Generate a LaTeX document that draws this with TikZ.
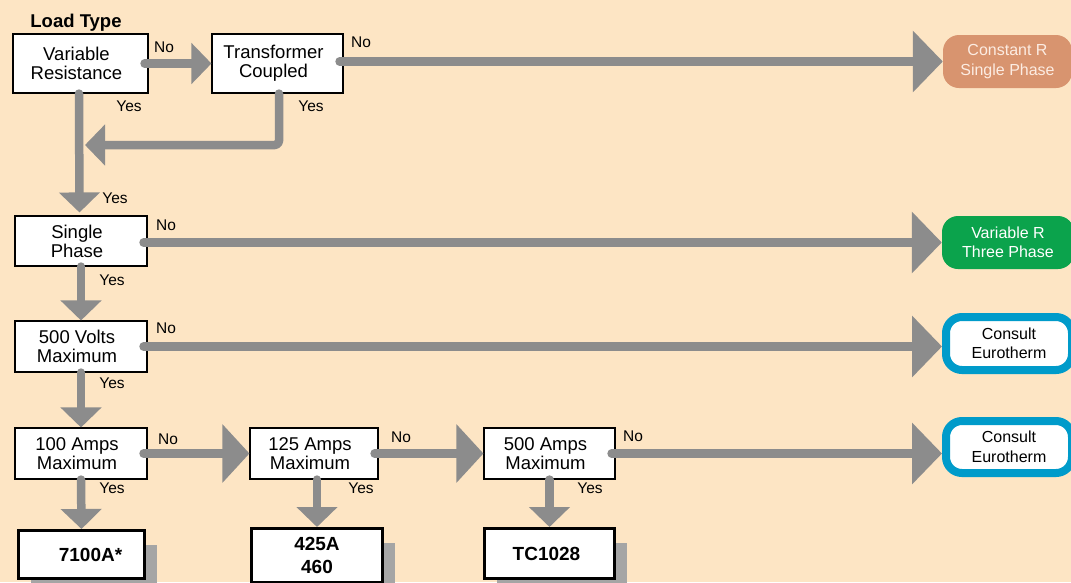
\documentclass[tikz,border=0pt]{standalone}
\usepackage{fontspec}
\setmainfont{Liberation Sans}
\usetikzlibrary{arrows.meta,calc,shadows}
\definecolor{bg}{RGB}{253,229,196}
\definecolor{arr}{RGB}{140,140,140}
\definecolor{shd}{RGB}{165,165,165}
\definecolor{crfill}{RGB}{216,148,111}
\definecolor{crtext}{RGB}{252,236,226}
\definecolor{grn}{RGB}{11,163,76}
\definecolor{blu}{RGB}{0,155,202}
\begin{document}
\begin{tikzpicture}[x=1pt,y=-1pt,
  dbox/.style={draw=black,line width=1.1pt,fill=white,inner sep=0pt},
  dtxt/.style={align=center,inner sep=0pt,xshift=-4pt,font=\fontsize{18.5}{19}\selectfont},
  rbox/.style={draw=black,line width=3pt,fill=white,inner sep=0pt,align=center,
    font=\fontsize{19}{22.5}\selectfont\bfseries,
    drop shadow={shadow xshift=12pt,shadow yshift=-14pt,fill=shd,opacity=1}},
  term/.style={rounded corners=16pt,inner sep=0pt,align=center,
    font=\fontsize{16}{19.5}\selectfont},
  lbl/.style={font=\fontsize{15.5}{18}\selectfont,inner sep=0pt},
  flow/.style={draw=arr,line width=8.5pt,line cap=round,line join=round},
  sm/.style={-{Triangle[length=20pt,width=40pt]}},
  md/.style={-{Triangle[length=27pt,width=57pt]}},
  lg/.style={-{Triangle[length=30pt,width=60pt]}},
]
\fill[bg] (0,0) rectangle (1071,582);
\useasboundingbox (0,0) rectangle (1071,582);

% title
\node[anchor=base,inner sep=0pt,font=\fontsize{18.5}{20}\selectfont\bfseries] (title) at (76,27) {Load Type};

% decision boxes
\node[dbox,minimum width=135,minimum height=59,label={[dtxt]center:Variable\\Resistance}] (vr) at (80.5,63.5) {};
\node[dbox,minimum width=131,minimum height=59,label={[dtxt]center:Transformer\\Coupled}] (tc) at (277.5,63.5) {};
\node[dbox,minimum width=132,minimum height=50,label={[dtxt]center:Single\\Phase}] (sp) at (81,241) {};
\node[dbox,minimum width=132,minimum height=51,label={[dtxt]center:500 Volts\\Maximum}] (v500) at (81,346.5) {};
\node[dbox,minimum width=132,minimum height=51,label={[dtxt]center:100 Amps\\Maximum}] (a100) at (81,453.5) {};
\node[dbox,minimum width=128,minimum height=51,label={[dtxt]center:125 Amps\\Maximum}] (a125) at (314,453.5) {};
\node[dbox,minimum width=131,minimum height=51,label={[dtxt]center:500 Amps\\Maximum}] (a500) at (549.5,453.5) {};

% result boxes
\node[rbox,minimum width=126,minimum height=48] (r7100) at (81.5,554.5) {\hspace*{18pt}7100A*};
\node[rbox,minimum width=131,minimum height=54] (r425) at (317,555.5) {425A\\460};
\node[rbox,minimum width=130,minimum height=50] (rtc) at (549.5,553.5) {\hspace*{-6pt}TC1028};

% terminal nodes
\node[term,fill=crfill,text=crtext,minimum width=129,minimum height=53] (cr) at (1007.5,61.5) {Constant R\\Single Phase};
\node[term,fill=grn,text=white,minimum width=132,minimum height=53] (vr3) at (1008,242.5) {Variable R\\Three Phase};
\node[term,draw=blu,line width=8pt,fill=white,minimum width=126,minimum height=53] (ce1) at (1009,343.5) {Consult\\Eurotherm};
\node[term,draw=blu,line width=8pt,fill=white,minimum width=126,minimum height=52] (ce2) at (1009,447) {Consult\\Eurotherm};

\coordinate (join) at (85,145);

% connectors
\draw[flow,sm] ($(vr.east)+(-4,0)$) -- (tc.west);
\draw[flow,lg] ($(tc.east |- cr.west)+(-4,0)$) -- (cr.west);
\draw[flow,sm,shorten >=3pt] ($(vr.south)+(-1.5,0)$) -- ($(sp.north)+(-1.5,0)$);
\draw[flow,sm,rounded corners=4pt] ($(tc.south)+(1.5,0)$) |- (join);
\draw[flow,lg] ($(sp.east |- vr3.west)+(-4,0)$) -- (vr3.west);
\draw[flow,sm] (sp.south) -- (v500.north);
\draw[flow,lg] ($(v500.east)+(-4,0)$) -- (v500.east -| ce1.west);
\draw[flow,sm] (v500.south) -- (a100.north);
\draw[flow,md] ($(a100.east)+(-4,0)$) -- (a125.west);
\draw[flow,md] ($(a125.east)+(-4,0)$) -- (a500.west);
\draw[flow,lg] ($(a500.east)+(-4,0)$) -- (a500.east -| ce2.west);
\draw[flow,sm] (a100.south) -- (r7100.north);
\draw[flow,sm] (r425.north |- a125.south) -- (r425.north);
\draw[flow,sm] (a500.south) -- (rtc.north);

% labels
\node[lbl] (l1) at (164,47) {No};
\node[lbl] (l2) at (361,42) {No};
\node[lbl] (l3) at (129,106) {Yes};
\node[lbl] (l4) at (311,106) {Yes};
\node[lbl] (l5) at (115,198) {Yes};
\node[lbl] (l6) at (166,225) {No};
\node[lbl] (l7) at (112,280) {Yes};
\node[lbl] (l8) at (166,328) {No};
\node[lbl] (l9) at (112,383) {Yes};
\node[lbl] (l10) at (168,439) {No};
\node[lbl] (l11) at (112,488) {Yes};
\node[lbl] (l12) at (401,437) {No};
\node[lbl] (l13) at (361,488) {Yes};
\node[lbl] (l14) at (633,436) {No};
\node[lbl] (l15) at (590,488) {Yes};
\end{tikzpicture}
\end{document}
